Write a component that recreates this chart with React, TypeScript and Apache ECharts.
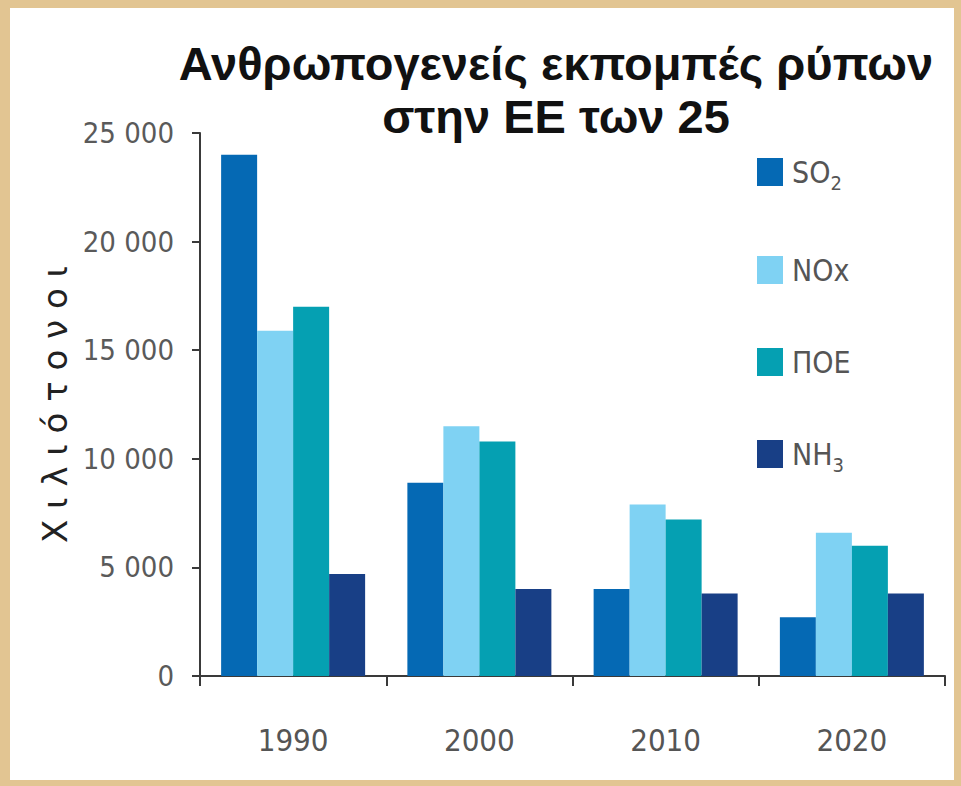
import React, { useEffect, useRef } from 'react';
import * as echarts from 'echarts';

// ---- data ----
const years = ['1990', '2000', '2010', '2020'];
const so2Values = [24000, 8900, 4000, 2700];
const noxValues = [15900, 11500, 7900, 6600];
const poeValues = [17000, 10800, 7200, 6000];
const nh3Values = [4700, 4000, 3800, 3800];
const seriesNames = ['SO2', 'NOx', 'ΠΟΕ', 'NH3'];
const yTickValues = [0, 5000, 10000, 15000, 20000, 25000];
const yTickLabels = ['0', '5 000', '10 000', '15 000', '20 000', '25 000'];
const titleLines = ['Ανθρωπογενείς εκπομπές ρύπων', 'στην ΕΕ των 25'];
const yAxisTitle = 'Χιλιότονοι';

const seriesColors = ['#0569b4', '#7fd2f3', '#05a0b2', '#183f86'];
const narrow = '"Liberation Sans Narrow", "Arial Narrow", "DejaVu Sans Condensed", sans-serif';

function legendLabel(name: string): string {
  const m = name.match(/^([A-Za-z]+)(\d)$/);
  if (m) return `{b|${m[1]}}{s|${m[2]}}`;
  return `{b|${name}}`;
}

export default function App() {
  const ref = useRef<HTMLDivElement>(null);

  useEffect(() => {
    if (!ref.current) return;
    const chart = echarts.init(ref.current, null, { renderer: 'svg' });
    const valuesList = [so2Values, noxValues, poeValues, nh3Values];

    chart.setOption({
      animation: false,
      backgroundColor: '#e2c592',
      graphic: [
        {
          type: 'rect',
          z: -10,
          silent: true,
          shape: { x: 10, y: 8, width: 944, height: 772 },
          style: { fill: '#ffffff' },
        },
      ],
      title: {
        text: titleLines.join('\n'),
        left: 551,
        top: 32,
        textAlign: 'center',
        textStyle: {
          fontFamily: '"Liberation Sans", Arial, sans-serif',
          fontWeight: 'bold',
          fontSize: 47,
          lineHeight: 53,
          color: '#111111',
        },
      },
      legend: {
        orient: 'vertical',
        left: 752,
        top: 152,
        itemWidth: 26,
        itemHeight: 28,
        itemGap: 62,
        icon: 'rect',
        data: seriesNames,
        formatter: legendLabel,
        textStyle: {
          color: '#555555',
          fontFamily: narrow,
          fontSize: 30,
          padding: [0, 0, 0, 4],
          rich: {
            b: { fontFamily: narrow, fontSize: 30, color: '#555555' },
            s: {
              fontFamily: narrow,
              fontSize: 20,
              padding: [22, 0, 0, 0],
              color: '#555555',
            },
          },
        },
      },
      grid: { left: 200, right: 16, top: 133, bottom: 110 },
      xAxis: {
        type: 'category',
        data: years,
        boundaryGap: true,
        axisLine: { lineStyle: { color: '#3a3a3a', width: 2 } },
        axisTick: { show: true, length: 10, lineStyle: { color: '#3a3a3a', width: 2 } },
        axisLabel: {
          color: '#555555',
          fontFamily: narrow,
          fontSize: 31,
          margin: 48,
        },
      },
      yAxis: {
        type: 'value',
        min: 0,
        max: 25000,
        interval: 5000,
        name: yAxisTitle.split('').join(' '),
        nameLocation: 'middle',
        nameRotate: 90,
        nameGap: 126,
        nameTextStyle: {
          fontFamily: '"DejaVu Sans", sans-serif',
          fontSize: 34,
          color: '#222222',
        },
        splitLine: { show: false },
        axisLine: { show: true, lineStyle: { color: '#3a3a3a', width: 2 } },
        axisTick: { show: true, length: 8, lineStyle: { color: '#3a3a3a', width: 2 } },
        axisLabel: {
          color: '#5a5a5a',
          fontFamily: narrow,
          fontSize: 29,
          margin: 26,
          formatter: (v: number) => {
            const i = yTickValues.indexOf(v);
            return i >= 0 ? yTickLabels[i] : String(v);
          },
        },
      },
      series: seriesNames.map((name, i) => ({
        name,
        type: 'bar',
        data: valuesList[i],
        barWidth: 36,
        barGap: '0%',
        itemStyle: { color: seriesColors[i] },
      })),
    });

    return () => chart.dispose();
  }, []);

  return (
    <div
      ref={ref}
      style={{ position: 'absolute', left: 0, top: 0, width: 961, height: 786 }}
    />
  );
}
